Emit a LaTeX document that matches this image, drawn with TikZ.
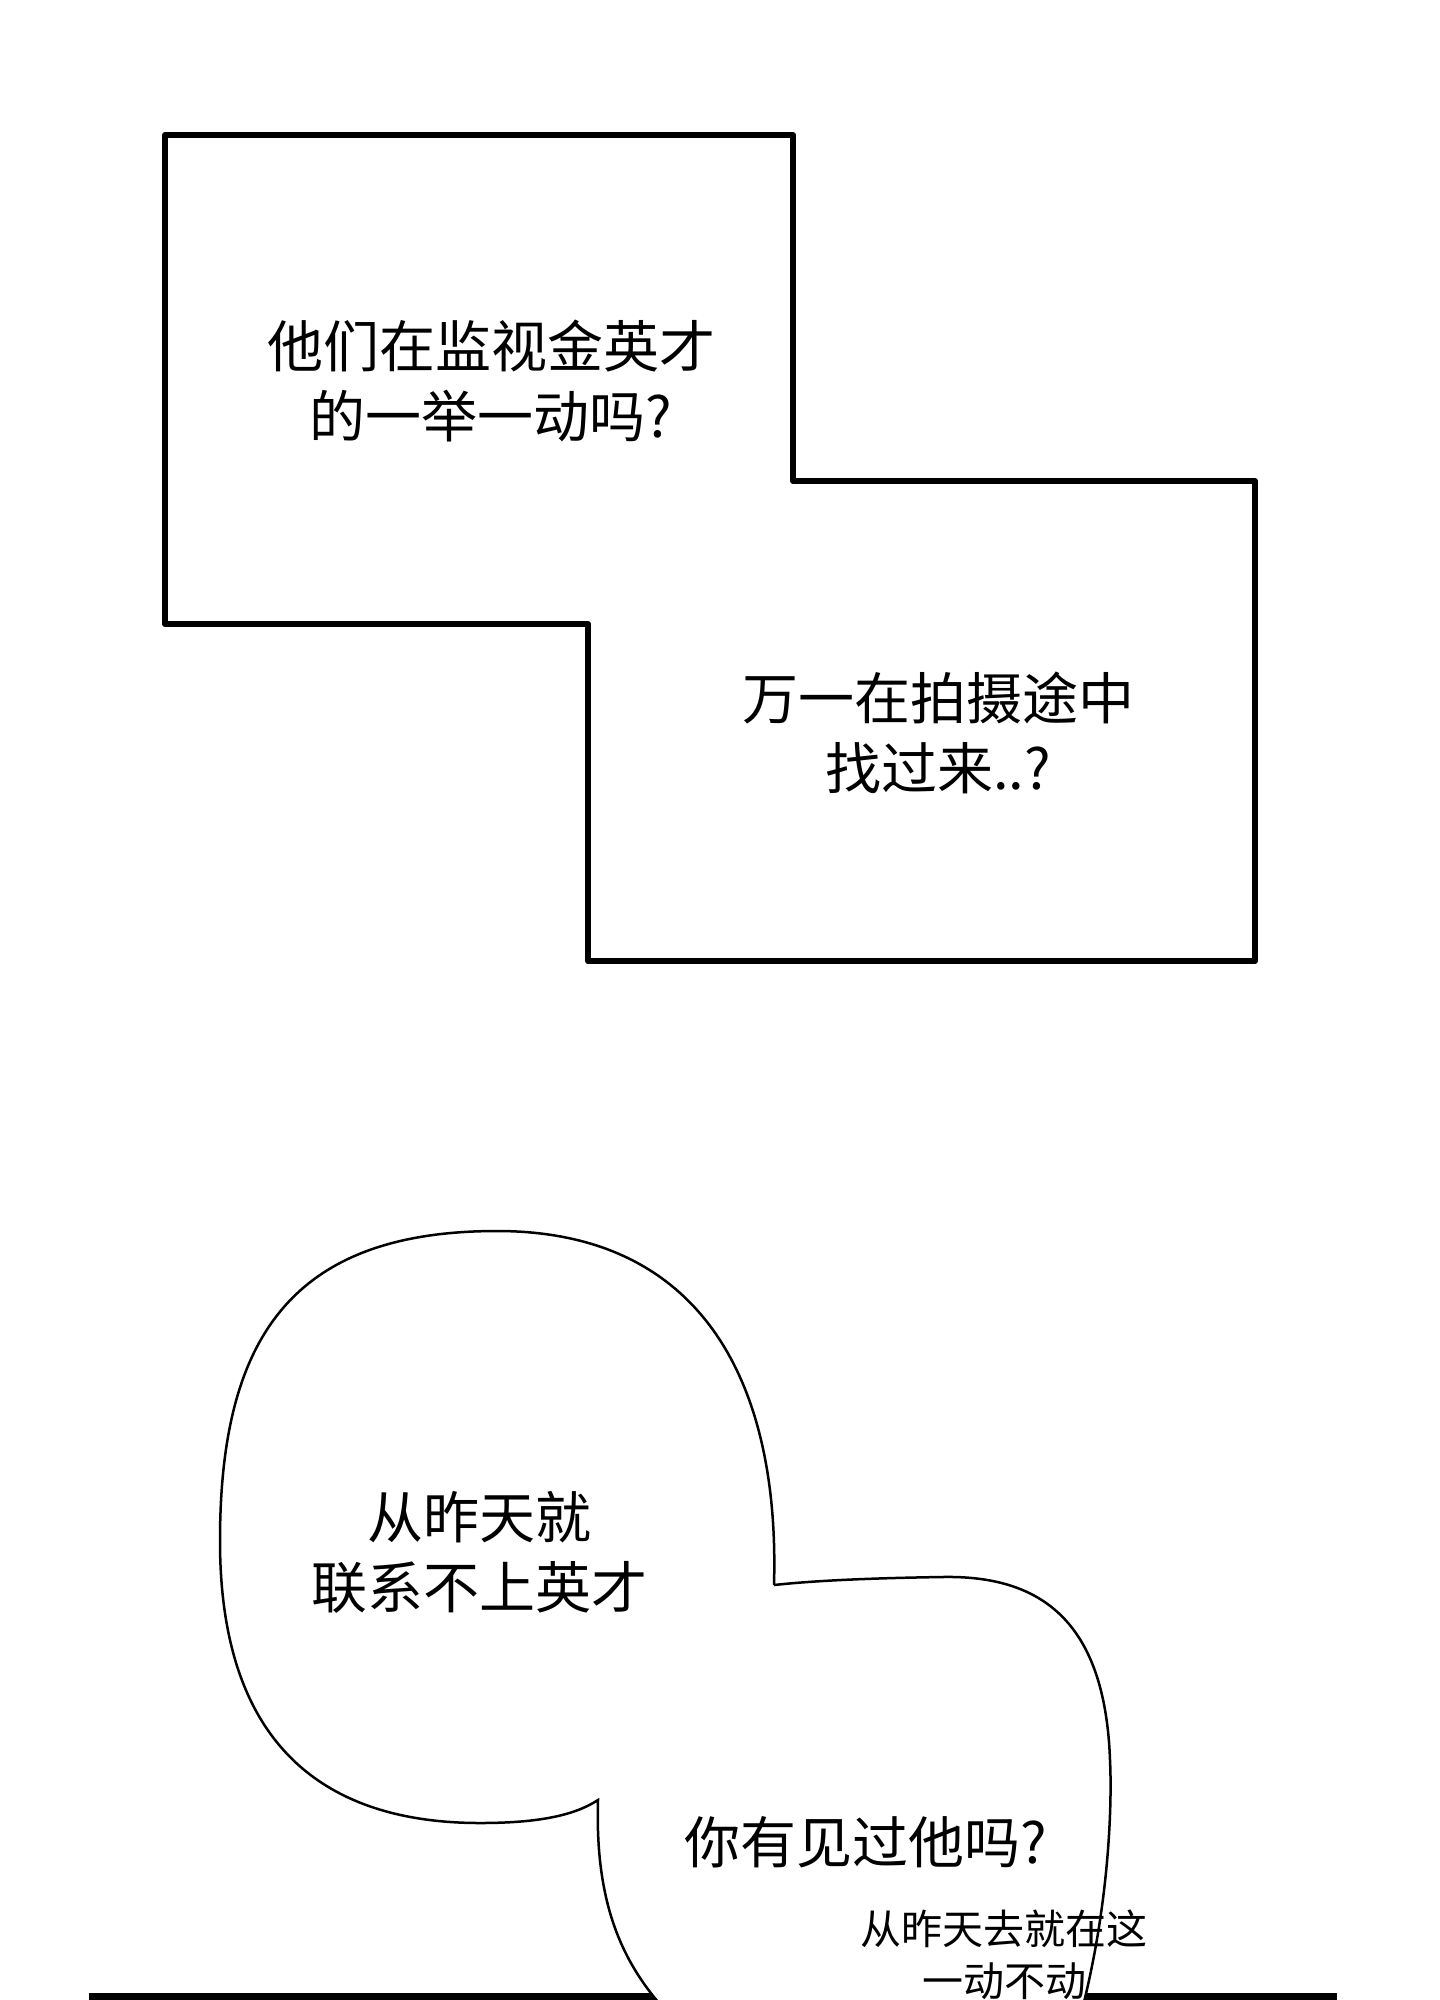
\documentclass[tikz,border=0pt]{standalone}
\usepackage{fontspec}
\newfontfamily\cjk{Noto Sans CJK SC}
\begin{document}
\begin{tikzpicture}[x=1pt,y=-1pt,
  big/.style={font=\cjk\fontsize{56}{70}\selectfont,align=center,inner sep=0},
  small/.style={font=\cjk\fontsize{41}{52}\selectfont,align=center,inner sep=0}]
\useasboundingbox (0,0) rectangle (1440,2000);
\clip (0,0) rectangle (1440,2000);
\fill[white] (0,0) rectangle (1440,2000);
\draw[line width=6pt,line join=round] (165,135) -- (793,135) -- (793,481) -- (1255,481) -- (1255,961) -- (588,961) -- (588,624) -- (165,624) -- cycle;
\node[big] (t1) at (491,381) {他们在监视金英才\\的一举一动吗?};
\node[big] (t2) at (938,733) {万一在拍摄途中\\找过来..?};
\fill (89,1993) rectangle (1337,2005);
\draw[line width=2.5pt,fill=white] (774,1585) .. controls (780,1380) and (700,1231) .. (497,1231)
 .. controls (290,1231) and (220,1340) .. (220,1541)
 .. controls (220,1760) and (340,1823) .. (480,1823)
 .. controls (540,1823) and (575,1815) .. (598,1800)
 .. controls (595,1900) and (620,1960) .. (665,2010)
 -- (1082,2010)
 .. controls (1110,1900) and (1112,1800) .. (1110,1760)
 .. controls (1105,1620) and (1040,1575) .. (942,1577)
 .. controls (880,1578) and (820,1580) .. (774,1585);
\node[big] (t3) at (479,1552) {从昨天就\\联系不上英才};
\node[big] (t4) at (866,1842) {你有见过他吗?};
\node[small] (t5) at (1004,1955) {从昨天去就在这\\一动不动};
\end{tikzpicture}
\end{document}
